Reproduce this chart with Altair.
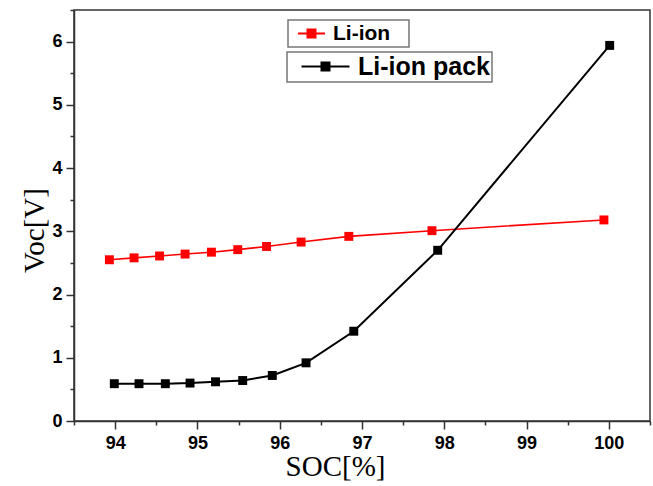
import altair as alt
import pandas as pd

# Data
soc_liion = [93.93, 94.23, 94.54, 94.85, 95.17, 95.49, 95.84, 96.26, 96.84, 97.85, 99.94]
voc_liion = [2.55, 2.58, 2.61, 2.64, 2.67, 2.71, 2.76, 2.83, 2.92, 3.01, 3.18]
soc_pack = [93.99, 94.29, 94.61, 94.91, 95.22, 95.55, 95.91, 96.32, 96.90, 97.92, 100.01]
voc_pack = [0.59, 0.59, 0.59, 0.60, 0.62, 0.64, 0.72, 0.92, 1.42, 2.70, 5.94]
series_names = ["Li-ion", "Li-ion pack"]
x_ticks = [93.5 + 0.5 * i for i in range(15)]
y_ticks = [0.5 * i for i in range(14)]

AX = "#333333"
tick_size = {"condition": {"test": "datum.value % 1 === 0", "value": 8}, "value": 4}

x_enc = alt.X(
    "soc:Q",
    scale=alt.Scale(domain=[93.5, 100.5], nice=False, zero=False),
    axis=alt.Axis(
        title="SOC[%]", values=x_ticks, tickSize=tick_size,
        labelExpr="datum.value % 1 === 0 ? format(datum.value, 'd') : ''",
        labelPadding=5, titleX=261, titleAlign="center", titlePadding=0,
    ),
)
y_enc = alt.Y(
    "voc:Q",
    scale=alt.Scale(domain=[0, 6.5], nice=False),
    axis=alt.Axis(
        title="Voc[V]", values=y_ticks, tickSize=tick_size,
        labelExpr="datum.value % 1 === 0 ? format(datum.value, 'd') : ''",
        labelPadding=4, titleY=220, titlePadding=2,
    ),
)


def series_layer(soc, voc, name, color, lw, lx, ly, path, pad, sym_off, lab_off, fsize, tail):
    df = pd.DataFrame({"soc": soc, "voc": voc, "series": name})
    col = alt.Color(
        "series:N",
        scale=alt.Scale(domain=[name], range=[color]),
        legend=alt.Legend(
            orient="none", legendX=lx, legendY=ly, title=None,
            symbolType=path, symbolSize=256, symbolStrokeWidth=2,
            symbolFillColor=color, symbolStrokeColor=color,
            labelFont="Liberation Sans", labelFontWeight="bold", labelFontSize=fsize,
            labelColor="black", labelOffset=lab_off, padding=pad, symbolOffset=sym_off,
            strokeColor="#777777", fillColor="white",
            labelExpr="datum.label + '" + tail + "'",
        ),
    )
    base = alt.Chart(df).encode(x=x_enc, y=y_enc, color=col)
    line = base.mark_line(strokeWidth=lw)
    pts = base.mark_point(shape="square", filled=True, size=80, opacity=1)
    return alt.layer(line, pts)


red = series_layer(soc_liion, voc_liion, series_names[0], "#ff0000", 1.6, 214, 10,
                   "M-1.69,0L1.69,0M-0.5,-0.5L0.5,-0.5L0.5,0.5L-0.5,0.5Z", 3, 10, 11, 21,
                   "\u2800")
black = series_layer(soc_pack, voc_pack, series_names[1], "#000000", 2, 213, 42,
                     "M-3,0L3,0M-0.5,-0.5L0.5,-0.5L0.5,0.5L-0.5,0.5Z", 2, 24, 20, 25, "")

chart = (
    alt.layer(red, black)
    .resolve_scale(color="independent")
    .properties(
        width=576, height=411,
        autosize=alt.AutoSizeParams(type="none"),
        padding={"left": 74, "top": 10, "right": 3, "bottom": 65},
        background="white",
    )
    .configure_view(stroke=AX, strokeWidth=1.5)
    .configure_legend(strokeWidth=1.5)
    .configure_axis(
        grid=False, domainColor=AX, domainWidth=1.5, tickColor=AX, tickWidth=1.5,
        labelFont="Liberation Sans", labelFontWeight="bold", labelFontSize=18,
        labelColor="black",
        titleFont="Liberation Serif", titleFontWeight="normal", titleFontSize=29,
        titleColor="black",
    )
)

chart.save("out.html", embed_options={"renderer": "svg", "actions": False})
